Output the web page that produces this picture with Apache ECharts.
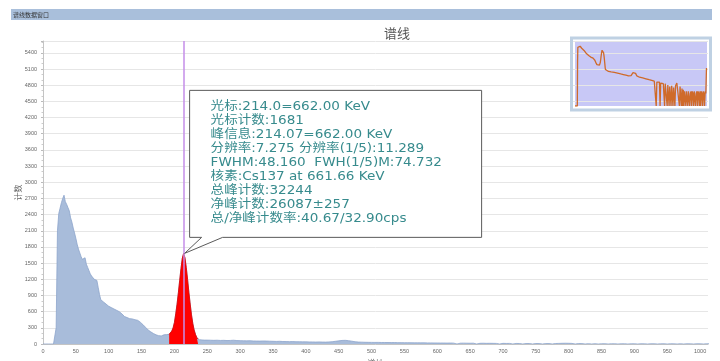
<!DOCTYPE html>
<html>
<head>
<meta charset="utf-8">
<script src="https://cdn.jsdelivr.net/npm/echarts@6/dist/echarts.min.js"></script>
<style>
html, body { margin: 0; padding: 0; background: #fff; }
#chart { width: 720px; height: 361px; }
</style>
</head>
<body>
<div id="chart"></div>
<script>
// 低能段道址（每2道）
const lowChannels = [
  0, 2, 4, 6, 8, 10, 12, 14, 16, 18,
  20, 22, 24, 26, 28, 30, 32, 34, 36, 38,
  40, 42, 44, 46, 48, 50, 52, 54, 56, 58,
  60, 62, 64, 66, 68, 70, 72, 74, 76, 78,
  80, 82, 84, 86, 88, 90, 92, 94, 96, 98,
  100, 102, 104, 106, 108, 110, 112, 114, 116, 118,
  120, 122, 124, 126, 128, 130, 132, 134, 136, 138,
  140, 142, 144, 146, 148, 150, 152, 154, 156, 158,
  160, 162, 164, 166, 168, 170, 172, 174, 176, 178,
  180, 182, 184, 186, 188, 190, 192, 194, 196, 198,
  200, 202, 204, 206, 208, 210, 212, 214, 216, 218,
  220, 222, 224, 226, 228, 230, 232, 234, 236, 238,
  240, 242, 244, 246, 248
]
const lowCounts = [
  0, 0, 0, 0, 0, 0, 0, 0, 0, 0,
  300, 2100, 2420, 2520, 2620, 2700, 2760, 2640, 2590, 2530,
  2470, 2340, 2260, 2150, 2060, 1960, 1850, 1760, 1690, 1620,
  1570, 1560, 1600, 1480, 1420, 1360, 1300, 1260, 1230, 1200,
  1220, 1180, 1050, 920, 820, 790, 780, 760, 740, 720,
  700, 690, 675, 660, 650, 640, 625, 615, 600, 585,
  560, 530, 510, 500, 490, 475, 470, 460, 465, 455,
  450, 445, 440, 425, 405, 385, 360, 335, 310, 285,
  260, 240, 225, 210, 195, 180, 170, 160, 155, 150,
  150, 160, 170, 180, 175, 170, 180, 195, 240, 300,
  400, 560, 740, 950, 1180, 1400, 1590, 1681, 1600, 1420,
  1200, 960, 740, 540, 380, 260, 180, 120, 90, 80,
  78, 75, 76, 72, 74
]
// 高能段道址（每5道）
const tailChannels = [
  250, 255, 260, 265, 270, 275, 280, 285, 290, 295,
  300, 305, 310, 315, 320, 325, 330, 335, 340, 345,
  350, 355, 360, 365, 370, 375, 380, 385, 390, 395,
  400, 405, 410, 415, 420, 425, 430, 435, 440, 445,
  450, 455, 460, 465, 470, 475, 480, 485, 490, 495,
  500, 505, 510, 515, 520, 525, 530, 535, 540, 545,
  550, 555, 560, 565, 570, 575, 580, 585, 590, 595,
  600, 605, 610, 615, 620, 625, 630, 635, 640, 645,
  650, 655, 660, 665, 670, 675, 680, 685, 690, 695,
  700, 705, 710, 715, 720, 725, 730, 735, 740, 745,
  750, 755, 760, 765, 770, 775, 780, 785, 790, 795,
  800, 805, 810, 815, 820, 825, 830, 835, 840, 845,
  850, 855, 860, 865, 870, 875, 880, 885, 890, 895,
  900, 905, 910, 915, 920, 925, 930, 935, 940, 945,
  950, 955, 960, 965, 970, 975, 980, 985, 990, 995,
  1000, 1005, 1010, 1015, 1020
]
const tailCounts = [
  72, 70, 68, 70, 66, 68, 64, 66, 70, 64,
  62, 60, 58, 60, 56, 55, 54, 56, 55, 52,
  50, 48, 50, 46, 45, 44, 45, 42, 42, 40,
  40, 38, 38, 36, 38, 36, 35, 38, 42, 50,
  58, 66, 68, 62, 52, 42, 36, 34, 32, 31,
  30, 29, 30, 28, 28, 27, 26, 27, 25, 25,
  24, 24, 23, 22, 22, 21, 22, 20, 20, 19,
  19, 18, 18, 17, 18, 16, 0, 15, 16, 15,
  14, 15, 0, 13, 14, 12, 13, 12, 11, 0,
  12, 10, 11, 0, 10, 9, 0, 8, 9, 0,
  9, 8, 0, 7, 8, 0, 9, 11, 13, 14,
  13, 11, 0, 8, 7, 0, 6, 0, 5, 0,
  4, 5, 0, 4, 4, 0, 4, 4, 0, 3,
  4, 0, 4, 3, 0, 4, 4, 0, 3, 4,
  0, 4, 3, 0, 4, 0, 4, 3, 0, 4,
  3, 0, 4, 3, 110
]

const cursorChannel = 214
const cursorCount = 1681
const peakRange = [192, 236]

const infoLines = [
  '光标:214.0=662.00 KeV',
  '光标计数:1681',
  '峰信息:214.07=662.00 KeV',
  '分辨率:7.275 分辨率(1/5):11.289',
  'FWHM:48.160  FWH(1/5)M:74.732',
  '核素:Cs137 at 661.66 KeV',
  '总峰计数:32244',
  '净峰计数:26087±257',
  '总/净峰计数率:40.67/32.90cps'
]

const channels = lowChannels.concat(tailChannels)
const counts = lowCounts.concat(tailCounts)
const spectrum = channels.map((c, i) => [c, counts[i]])
const peakData = spectrum.filter(p => p[0] >= peakRange[0] && p[0] <= peakRange[1])
// 缩略图用对数坐标，0 计数落到底部
const overview = spectrum.map(p => [p[0], Math.max(0.5, p[1])])

const chart = echarts.init(document.getElementById('chart'))
const labelColor = '#666'

const headerGraphics = [
  { type: 'rect', shape: { x: 11, y: 9, width: 701, height: 11 }, style: { fill: '#a9bfdb' } },
  {
    type: 'text', x: 13, y: 14.5,
    style: { text: '谱线数据窗口', fontSize: 6, fill: '#333', verticalAlign: 'middle', fontFamily: 'Noto Sans CJK SC' }
  },
  {
    type: 'rect', shape: { x: 571.5, y: 38, width: 139, height: 72 },
    style: { fill: 'none', stroke: '#bfd1e3', lineWidth: 3 }, z: 10
  }
]

const option = {
  animation: false,
  backgroundColor: '#fff',
  title: {
    text: '谱线',
    left: 379,
    top: 22,
    textStyle: { fontSize: 13, fontWeight: 'normal', color: '#555', fontFamily: 'Noto Sans CJK SC' }
  },
  grid: [
    { left: 43, right: 12, top: 41, bottom: 17, outerBoundsMode: 'none' },
    { left: 575, top: 41, width: 132, height: 65, show: true, backgroundColor: '#c8c8f6', borderWidth: 0, outerBoundsMode: 'none' }
  ],
  xAxis: [
    {
      type: 'value',
      min: 0,
      max: 1012,
      interval: 50,
      name: '道址',
      nameLocation: 'middle',
      nameGap: 12,
      nameTextStyle: { fontSize: 8, color: '#666', fontFamily: 'Noto Sans CJK SC' },
      axisLine: { lineStyle: { color: '#c4c4c4' } },
      axisTick: { show: false },
      axisLabel: { fontSize: 5.5, color: labelColor, margin: 4, showMaxLabel: false, formatter: v => String(v) },
      splitLine: { show: false }
    },
    { gridIndex: 1, type: 'value', min: 0, max: 1024, show: false }
  ],
  yAxis: [
    {
      type: 'value',
      min: 0,
      max: 5620,
      interval: 300,
      name: '计数',
      nameLocation: 'middle',
      nameGap: 21,
      nameMoveOverlap: false,
      nameRotate: 90,
      nameTextStyle: { fontSize: 8, color: '#666', fontFamily: 'Noto Sans CJK SC' },
      axisLine: { show: true, lineStyle: { color: '#c4c4c4' } },
      axisTick: { show: true, length: 2, lineStyle: { color: '#bbb' } },
      minorTick: { show: true, splitNumber: 3, length: 1.5, lineStyle: { color: '#ccc' } },
      axisLabel: { fontSize: 5.5, color: labelColor, margin: 6, showMaxLabel: false, formatter: v => String(v) },
      splitLine: { lineStyle: { color: '#e6e6e6' } }
    },
    { gridIndex: 1, type: 'log', min: 0.5, max: 5200, show: false }
  ],
  series: [
    {
      name: '谱线',
      type: 'line',
      data: spectrum,
      showSymbol: false,
      lineStyle: { color: '#8da5cc', width: 0.8 },
      areaStyle: { color: '#a8bcda', opacity: 1 },
      z: 2
    },
    {
      name: '峰区',
      type: 'line',
      data: peakData,
      showSymbol: false,
      lineStyle: { color: '#e00000', width: 0.8 },
      areaStyle: { color: '#ff0000', opacity: 1 },
      z: 3,
      markLine: {
        silent: true,
        symbol: 'none',
        label: { show: false },
        lineStyle: { color: '#c48ee8', width: 1.5, type: 'solid', opacity: 1 },
        data: [{ xAxis: cursorChannel }]
      }
    },
    {
      name: '缩略图',
      type: 'line',
      xAxisIndex: 1,
      yAxisIndex: 1,
      data: overview,
      showSymbol: false,
      lineStyle: { color: '#cf6a2a', width: 1.3 },
      z: 4
    }
  ],
  graphic: headerGraphics
}

chart.setOption(option)

// 信息框指向光标处的峰顶
const tip = chart.convertToPixel({ xAxisIndex: 0, yAxisIndex: 0 }, [cursorChannel, cursorCount])
const L = tip[0] + 6
const B = tip[1] - 16
const T = B - 147
const R = L + 292

chart.setOption({
  graphic: headerGraphics.concat([
    {
      type: 'polygon',
      z: 20,
      shape: {
        points: [[L, T], [R, T], [R, B], [L + 33, B], [tip[0] + 1, tip[1]], [L + 12, B], [L, B]]
      },
      style: { fill: 'rgba(255,255,255,0.97)', stroke: '#5a5a5a', lineWidth: 1 }
    },
    {
      type: 'text',
      z: 21,
      x: L + 21,
      y: T + 10,
      scaleX: 1.13,
      style: {
        text: infoLines.join('\n'),
        fontSize: 12,
        lineHeight: 14,
        fill: '#378b8d',
        fontFamily: 'DejaVu Sans, Noto Sans CJK SC',
        verticalAlign: 'top'
      }
    }
  ])
})
</script>
</body>
</html>
